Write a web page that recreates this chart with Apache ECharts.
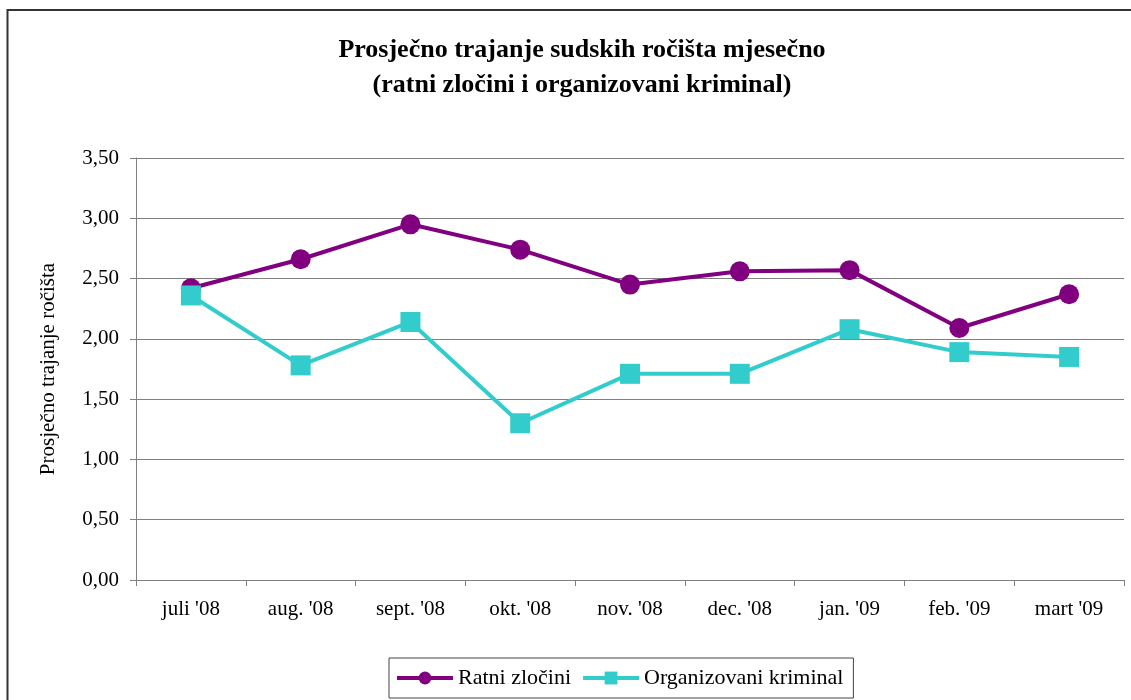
<!DOCTYPE html>
<html>
<head>
<meta charset="utf-8">
<script src="https://cdn.jsdelivr.net/npm/echarts@6/dist/echarts.min.js"></script>
<style>
  html, body { margin: 0; padding: 0; background: #fff; }
  #chart { width: 1131px; height: 700px; }
</style>
</head>
<body>
<div id="chart"></div>
<script>
var months = ["juli '08", "aug. '08", "sept. '08", "okt. '08", "nov. '08", "dec. '08", "jan. '09", "feb. '09", "mart '09"];
var ratniZlocini = [2.42, 2.66, 2.95, 2.74, 2.45, 2.56, 2.57, 2.09, 2.37];
var organizovaniKriminal = [2.36, 1.78, 2.14, 1.30, 1.71, 1.71, 2.08, 1.89, 1.85];

var serif = "'Liberation Serif', 'Times New Roman', serif";

var chart = echarts.init(document.getElementById("chart"));

var option = {
    animation: false,
    textStyle: { fontFamily: serif },
    graphic: [{
        type: "rect",
        shape: { x: 7.5, y: 10, width: 1140, height: 700 },
        style: { fill: "none", stroke: "#333", lineWidth: 2 },
        silent: true
    }],
    title: {
        text: "Prosječno trajanje sudskih ročišta mjesečno\n(ratni zločini i organizovani kriminal)",
        left: 577,
        top: 28,
        textAlign: "center",
        textStyle: {
            fontFamily: serif,
            fontSize: 26,
            fontWeight: "bold",
            color: "#000",
            lineHeight: 35
        }
    },
    legend: {
        bottom: 2,
        left: 389,
        itemWidth: 56,
        itemHeight: 16,
        itemGap: 10,
        padding: [9, 10, 9, 6],
        borderColor: "#444",
        borderWidth: 1,
        lineStyle: { width: 4 },
        textStyle: { fontFamily: serif, fontSize: 22, color: "#000" },
        data: ["Ratni zločini", "Organizovani kriminal"]
    },
    grid: {
        left: 136,
        right: 7,
        top: 158,
        bottom: 120,
        containLabel: false
    },
    xAxis: {
        type: "category",
        data: months,
        boundaryGap: true,
        axisLine: { lineStyle: { color: "#808080", width: 1 } },
        axisTick: { show: true, length: 6, inside: false, lineStyle: { color: "#808080" } },
        axisLabel: { fontFamily: serif, fontSize: 21, color: "#000", margin: 19 }
    },
    yAxis: {
        type: "value",
        min: 0,
        max: 3.5,
        interval: 0.5,
        name: "Prosječno trajanje ročišta",
        nameLocation: "middle",
        nameGap: 77,
        nameTextStyle: { fontFamily: serif, fontSize: 21, color: "#000" },
        axisLine: { show: true, lineStyle: { color: "#808080", width: 1 } },
        axisTick: { show: true, length: 6, lineStyle: { color: "#808080" } },
        splitLine: { lineStyle: { color: "#808080", width: 1 } },
        axisLabel: {
            fontFamily: serif,
            fontSize: 21,
            color: "#000",
            margin: 17,
            formatter: function (v) { return v.toFixed(2).replace(".", ","); }
        }
    },
    series: [
        {
            name: "Ratni zločini",
            type: "line",
            data: ratniZlocini,
            symbol: "circle",
            symbolSize: 20,
            lineStyle: { color: "#800080", width: 4 },
            itemStyle: { color: "#800080" }
        },
        {
            name: "Organizovani kriminal",
            type: "line",
            data: organizovaniKriminal,
            symbol: "rect",
            symbolSize: 20,
            lineStyle: { color: "#33CCCC", width: 4 },
            itemStyle: { color: "#33CCCC" }
        }
    ]
};

chart.setOption(option);
</script>
</body>
</html>
